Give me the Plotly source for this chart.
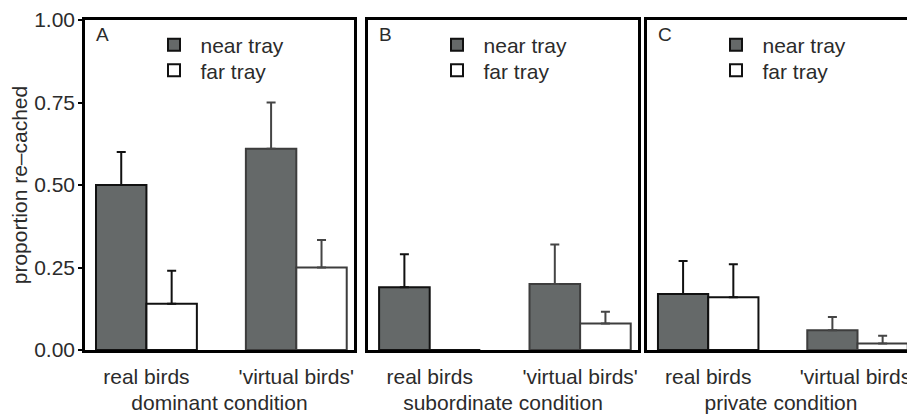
import plotly.graph_objects as go

# ---- data ----
categories = ["real birds", "'virtual birds'"]
conditions = ["dominant condition", "subordinate condition", "private condition"]
panel_letters = ["A", "B", "C"]
series_names = ["near tray", "far tray"]

near_dominant = [0.50, 0.61]
near_dominant_top = [0.60, 0.75]
far_dominant = [0.14, 0.25]
far_dominant_top = [0.24, 0.333]

near_subordinate = [0.19, 0.20]
near_subordinate_top = [0.29, 0.32]
far_subordinate = [0.0, 0.08]
far_subordinate_top = [0.0, 0.116]

near_private = [0.17, 0.06]
near_private_top = [0.27, 0.10]
far_private = [0.16, 0.02]
far_private_top = [0.26, 0.043]

y_ticks = [0.0, 0.25, 0.5, 0.75, 1.0]
y_tick_labels = ["0.00", "0.25", "0.50", "0.75", "1.00"]

# ---- style ----
FONT = "Liberation Sans, Arial, Helvetica, sans-serif"
TXT = "#2b2b2b"
NEAR_FILL = "#656969"
FAR_FILL = "#ffffff"
OUTLINE = ["#111111", "#3d3d3d"]   # real birds / virtual birds outlines
ERRCOL = ["#111111", "#454545"]

panels = [
    (near_dominant, near_dominant_top, far_dominant, far_dominant_top),
    (near_subordinate, near_subordinate_top, far_subordinate, far_subordinate_top),
    (near_private, near_private_top, far_private, far_private_top),
]

# the page body adds an 8px offset, so the figure is sized to fit the window
W, H = 907, 406
ML, MR, MT, MB = 77, 0, 12, 64
PW, PH = W - ML - MR, H - MT - MB

fig = go.Figure()
legend_names = []
for p, (nm, nt, fm, ft) in enumerate(panels):
    xa = "x" if p == 0 else f"x{p+1}"
    ya = "y" if p == 0 else f"y{p+1}"
    for s, (means, tops, fill) in enumerate([(nm, nt, NEAR_FILL), (fm, ft, FAR_FILL)]):
        k = 2 * p + s
        lg = "legend" if k == 0 else f"legend{k+1}"
        legend_names.append((lg, p, s))
        for c in range(len(categories)):
            fig.add_trace(go.Bar(
                x=[categories[c]], y=[means[c]],
                name=series_names[s],
                offsetgroup=series_names[s],
                legendgroup=f"{p}-{s}",
                showlegend=(c == 0),
                legend=lg,
                marker=dict(color=fill, line=dict(color=OUTLINE[c], width=2)),
                error_y=dict(type="data", symmetric=False,
                             array=[tops[c] - means[c]], arrayminus=[0],
                             color=ERRCOL[c], thickness=2, width=4.5,
                             visible=tops[c] > means[c]),
                xaxis=xa, yaxis=ya,
            ))

domains = [[0.0, 0.3241], [0.3410, 0.6663], [0.6771, 1.0]]
xrange = [-0.41, 1.385]

layout = dict(
    width=W, height=H,
    margin=dict(l=ML, r=MR, t=MT, b=MB, autoexpand=False),
    paper_bgcolor="white", plot_bgcolor="white",
    font=dict(family=FONT, size=21, color=TXT),
    barmode="group", bargap=0.327, bargroupgap=0,
    showlegend=True,
)

annotations = []
for p in range(3):
    sfx = "" if p == 0 else str(p + 1)
    layout["xaxis" + sfx] = dict(
        domain=domains[p], anchor="y" + sfx, type="category",
        categoryorder="array", categoryarray=categories,
        range=xrange, showgrid=False, zeroline=False, automargin=False,
        showline=True, linecolor="black", linewidth=2.5, mirror=True,
        ticks="", ticklabelstandoff=6,
        tickfont=dict(size=21, color=TXT),
        title=dict(text=conditions[p], font=dict(size=21, color=TXT), standoff=9),
    )
    yax = dict(
        domain=[0, 1], anchor="x" + sfx, range=[0, 1.0],
        showgrid=False, zeroline=False, automargin=False,
        showline=True, linecolor="black", linewidth=2.5,
        mirror=(p < 2),
    )
    if p == 0:
        yax.update(tickmode="array", tickvals=y_ticks, ticktext=y_tick_labels,
                   ticks="outside", ticklen=4, tickwidth=1.5, tickcolor="black",
                   ticklabelstandoff=-1,
                   tickfont=dict(size=21, color=TXT),
                   title=dict(text="proportion re\u2013cached",
                              font=dict(size=21, color=TXT), standoff=6))
    else:
        yax.update(matches="y", showticklabels=False, ticks="")
    layout["yaxis" + sfx] = yax

    annotations.append(dict(
        text=panel_letters[p], xref=f"x{sfx} domain", yref=f"y{sfx} domain",
        x=0.035, y=0.995, xanchor="left", yanchor="top", showarrow=False,
        font=dict(size=19, color=TXT),
    ))

row_y = [37, 62.7]   # legend row centres (px from figure top)
for lg, p, s in legend_names:
    lx = (domains[p][0] * PW + 89 - 26.5) / PW
    ly = (H - MB - row_y[s]) / PH
    layout[lg] = dict(
        x=lx, y=ly, xref="paper", yref="paper",
        xanchor="left", yanchor="middle", itemwidth=43,
        bgcolor="rgba(0,0,0,0)", borderwidth=0,
        font=dict(size=21, color=TXT), tracegroupgap=0,
    )

layout["annotations"] = annotations
fig.update_layout(**layout)
fig.write_html("out.html")
